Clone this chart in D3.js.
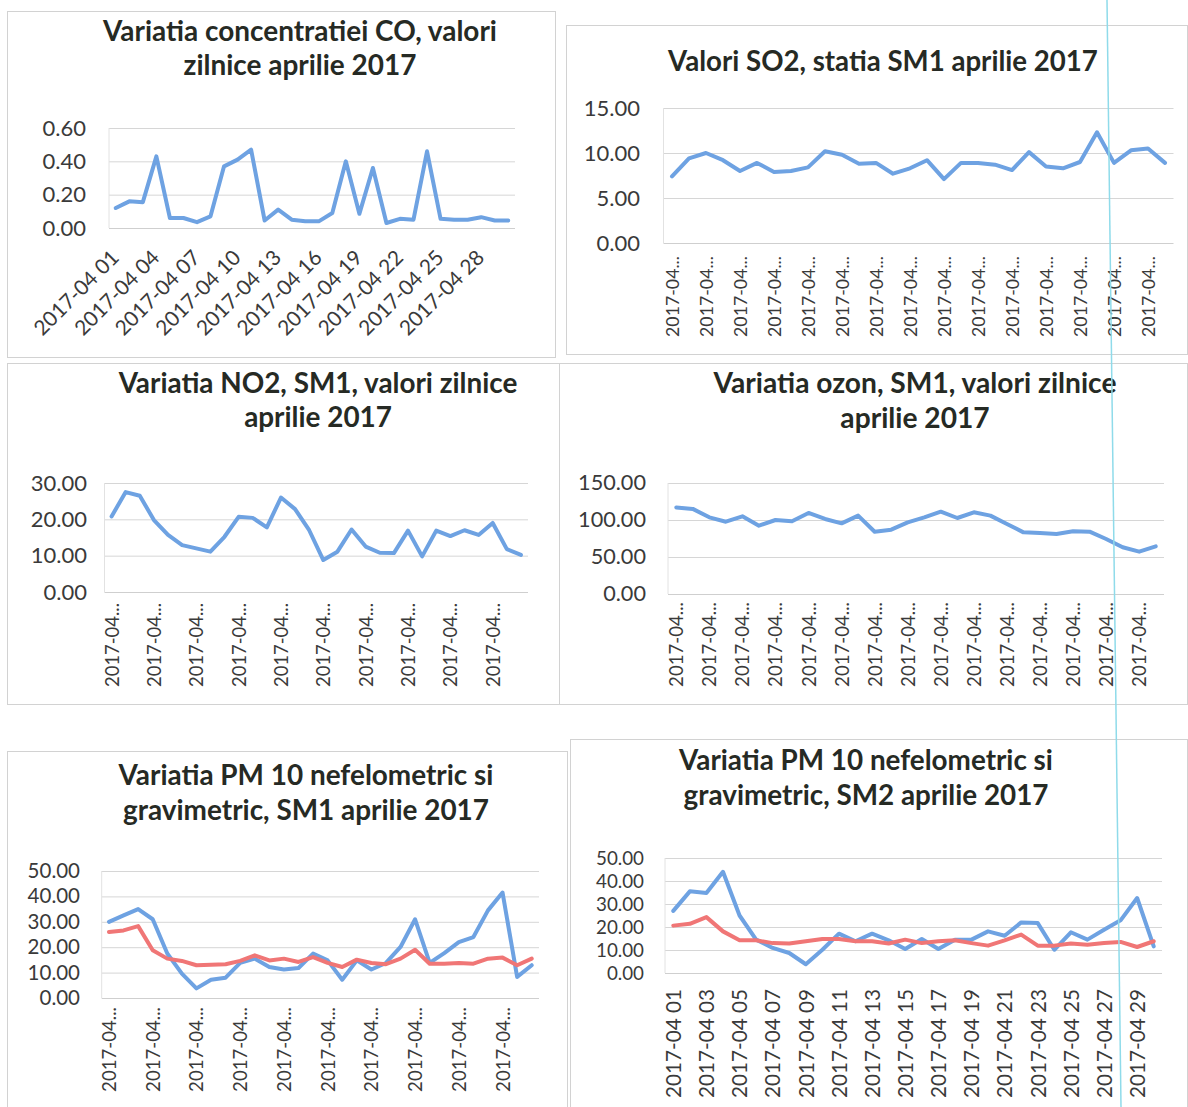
<!DOCTYPE html>
<html><head><meta charset="utf-8">
<script src="https://cdn.jsdelivr.net/npm/d3@7"></script>
<style>body{margin:0;background:#fff}svg{display:block}</style>
</head><body>
<svg id="c" width="1188" height="1107"></svg>
<script>
const days = ["2017-04 01","2017-04 02","2017-04 03","2017-04 04","2017-04 05","2017-04 06","2017-04 07","2017-04 08","2017-04 09","2017-04 10",
"2017-04 11","2017-04 12","2017-04 13","2017-04 14","2017-04 15","2017-04 16","2017-04 17","2017-04 18","2017-04 19","2017-04 20",
"2017-04 21","2017-04 22","2017-04 23","2017-04 24","2017-04 25","2017-04 26","2017-04 27","2017-04 28","2017-04 29","2017-04 30"];

const coValues = [0.12,0.16,0.155,0.43,0.06,0.06,0.035,0.07,0.37,0.41,0.47,0.045,0.11,0.05,0.04,0.04,0.09,0.40,0.085,0.36,0.03,0.055,0.05,0.46,0.055,0.05,0.05,0.065,0.045,0.045];
const so2Values = [7.4,9.4,10.0,9.2,8.0,8.9,7.9,8.0,8.4,10.2,9.8,8.8,8.9,7.7,8.3,9.2,7.1,8.9,8.9,8.7,8.1,10.1,8.5,8.3,9.0,12.3,8.9,10.3,10.5,8.9];
const no2Values = [20.8,27.5,26.5,19.8,15.7,12.9,12.0,11.1,15.2,20.7,20.4,17.8,26.0,22.8,17.0,8.8,11.1,17.2,12.5,10.8,10.7,16.9,9.8,16.9,15.4,17.0,15.7,19.0,11.8,10.2];
const ozoneValues = [117,115,103.6,97.7,105,92.3,100,98.2,109.5,101.4,95.5,105.9,84.2,86.9,96.8,103.6,111.3,102.7,110.4,105.9,94.6,83.3,82.4,81.1,84.7,84.2,74.3,63.1,57.2,64.4];
const pm1Nefelometric = [30,32.5,35,31,17.5,9.6,3.8,7.2,8,13.8,15.5,12.2,11.2,11.8,17.5,14.8,7.2,14.8,11.2,13.8,20.1,31,13.8,17.7,22,24,34.5,41.5,8.3,12.9];
const pm1Gravimetric = [26,26.6,28.3,18.8,15.5,14.6,12.9,13.1,13.3,14.6,16.8,14.8,15.5,14.2,16.1,13.8,12.2,15.1,13.8,13.3,15.5,19,13.5,13.5,13.8,13.5,15.5,15.9,12.9,15.5];
const pm2Nefelometric = [27,35.5,34.8,44,25,14.5,10.9,8.7,3.8,10.1,17.1,13.8,17.1,14.2,10.4,14.8,10.4,14.5,14.5,18.1,16.2,22,21.7,10.1,17.7,14.5,18.8,22.9,32.6,11.6];
const pm2Gravimetric = [20.6,21.4,24.3,18.1,14.2,14.2,13,12.8,13.8,14.8,14.8,13.8,13.8,12.8,14.5,13,13.8,14.2,13,11.9,14.2,16.7,11.9,11.9,12.8,12.3,13,13.5,11.3,13.8];

const coTicks = [0,0.2,0.4,0.6];
const so2Ticks = [0,5,10,15];
const no2Ticks = [0,10,20,30];
const ozoneTicks = [0,50,100,150];
const pmTicks = [0,10,20,30,40,50];

const titles = {
  co: ["Variatia concentratiei CO, valori","zilnice aprilie 2017"],
  so2: ["Valori SO2, statia SM1 aprilie 2017"],
  no2: ["Variatia NO2, SM1, valori zilnice","aprilie 2017"],
  oz: ["Variatia ozon, SM1, valori zilnice","aprilie 2017"],
  pm1: ["Variatia PM 10 nefelometric si","gravimetric, SM1 aprilie 2017"],
  pm2: ["Variatia PM 10 nefelometric si","gravimetric, SM2 aprilie 2017"]
};

const BLUE = "#6ea2e2", RED = "#f07676";
const FONT = "Lato, 'Open Sans', sans-serif";

const panels = [
 {border:[7,11,555,357], title:titles.co, tx:300, ty:[41,75], tw:394,
  plot:[109,515,128,228], ticks:coTicks, yRight:86, yw:45, ymax:22, lab:"diag", every:3, off:31, labLen:110, full:true,
  series:[{v:coValues,c:BLUE}]},
 {border:[566,25,1187,354], title:titles.so2, tx:883, ty:[71], tw:430,
  plot:[663.5,1173.5,108,243], ticks:so2Ticks, yRight:640, yw:57, ymax:22, lab:"vert", every:2, off:13, labLen:81, full:false,
  series:[{v:so2Values,c:BLUE}]},
 {border:[7,363,559,704], title:titles.no2, tx:318, ty:[393,427], tw:399,
  plot:[104.5,528,483,592], ticks:no2Ticks, yRight:87, yw:58, ymax:22, lab:"vert", every:3, off:11, labLen:84, full:false,
  series:[{v:no2Values,c:BLUE}]},
 {border:[559,363,1187,704], title:titles.oz, tx:915, ty:[393,428], tw:403,
  plot:[668,1164,483,594], ticks:ozoneTicks, yRight:646, yw:68, ymax:22, lab:"vert", every:2, off:8, labLen:85, full:false,
  series:[{v:ozoneValues,c:BLUE}]},
 {border:[7,751,567,1112], title:titles.pm1, tx:306, ty:[785,820], tw:375,
  plot:[101.7,539,871,998], ticks:pmTicks, yRight:80, yw:58, ymax:20.5, lab:"vert", every:3, off:9, labLen:85, full:false,
  series:[{v:pm1Nefelometric,c:BLUE},{v:pm1Gravimetric,c:RED}]},
 {border:[570,739,1187,1112], title:titles.pm2, tx:866, ty:[770,805], tw:374,
  plot:[665,1162,858,973], ticks:pmTicks, yRight:644, yw:58, ymax:18.8, lab:"vert", every:2, off:16, labLen:109, full:true,
  series:[{v:pm2Nefelometric,c:BLUE},{v:pm2Gravimetric,c:RED}]}
];

const svg = d3.select("#c");
svg.append("rect").attr("width",1188).attr("height",1107).attr("fill","#fff");

function fit(sel, target, base, maxSize) {
  let len = 0;
  sel.each(function(){ len = Math.max(len, this.getComputedTextLength()); });
  let fs = base * target / len;
  if (maxSize) fs = Math.min(fs, maxSize);
  sel.attr("font-size", fs);
  return fs;
}

panels.forEach(p => {
  const g = svg.append("g");
  const [bx0,by0,bx1,by1] = p.border;
  g.append("rect").attr("x",bx0+0.5).attr("y",by0+0.5).attr("width",bx1-bx0).attr("height",by1-by0)
    .attr("fill","none").attr("stroke","#d2d2d2").attr("stroke-width",1);

  // title
  const tt = g.selectAll("text.title").data(p.title).join("text").attr("class","title")
    .attr("x",p.tx).attr("y",(d,i)=>p.ty[i]).attr("text-anchor","middle")
    .attr("font-family",FONT).attr("font-weight",700).attr("fill","#262a24").attr("font-size",20).text(d=>d);
  let len0 = tt.node().getComputedTextLength();
  tt.attr("font-size", 20*p.tw/len0);

  const [x0,x1,y0,y1] = p.plot;
  const x = d3.scalePoint().domain(days).range([x0,x1]).padding(0.5);
  const y = d3.scaleLinear().domain([0, d3.max(p.ticks)]).range([y1,y0]);

  // gridlines
  const grid = g.append("g").attr("transform",`translate(${x0},0)`)
    .call(d3.axisLeft(y).tickValues(p.ticks.filter(t=>t>0)).tickSize(-(x1-x0)).tickFormat(""));
  grid.select(".domain").remove();
  grid.selectAll("line").attr("stroke","#d6d6d6").attr("stroke-width",1);
  g.append("line").attr("x1",x0).attr("x2",x0).attr("y1",y0).attr("y2",y1).attr("stroke","#e2e2e2");

  // y axis labels
  const ya = g.append("g").attr("transform",`translate(${x0},0)`)
    .call(d3.axisLeft(y).tickValues(p.ticks).tickSize(0).tickPadding(x0-p.yRight).tickFormat(d3.format(".2f")));
  ya.select(".domain").remove();
  const ytx = ya.selectAll("text").attr("font-family",FONT).attr("fill","#3a3a3a").attr("font-size",20);
  fit(ytx, p.yw, 20, p.ymax);

  // x axis
  const tv = days.filter((d,i)=> i % p.every === 0);
  const xa = g.append("g").attr("transform",`translate(0,${y1})`)
    .call(d3.axisBottom(x).tickValues(tv).tickSize(0).tickFormat(d => p.full ? d : "2017-04..."));
  xa.select(".domain").attr("stroke","#cfcfcf").attr("d",`M${x0},0.5H${x1}`);
  const xt = xa.selectAll("text").attr("font-family",FONT).attr("fill","#3a3a3a").attr("font-size",18)
    .attr("x",0).attr("y",0).attr("text-anchor","end");
  if (p.lab === "diag") {
    xt.attr("dy","0").attr("transform",`translate(4,${p.off}) rotate(-45)`);
  } else {
    xt.attr("dy","0.35em").attr("transform",`translate(0,${p.off}) rotate(-90)`);
  }
  fit(xt, p.labLen, 18);

  // series
  const line = d3.line().x((d,i)=>x(days[i])).y(d=>y(d));
  p.series.forEach(s => {
    g.append("path").datum(s.v).attr("d",line).attr("fill","none")
      .attr("stroke",s.c).attr("stroke-width",4).attr("stroke-linejoin","round").attr("stroke-linecap","round");
  });
});

// scanner artifact line
svg.append("line").attr("x1",1107).attr("y1",0).attr("x2",1121).attr("y2",1107)
  .attr("stroke","#8fdbea").attr("stroke-width",1.5);
</script>
</body></html>
